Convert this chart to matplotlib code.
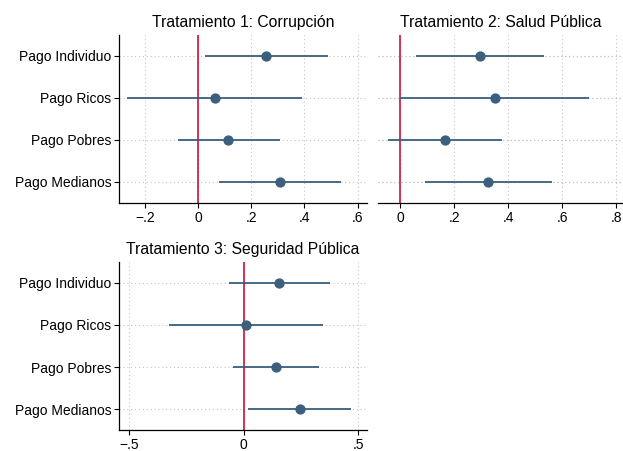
import matplotlib
matplotlib.use('Agg')
import matplotlib.pyplot as plt

plt.rcParams['font.family'] = ['Liberation Sans', 'DejaVu Sans']

# Coefficients with 95% confidence intervals, one set per treatment
categories = ['Pago Individuo', 'Pago Ricos', 'Pago Pobres', 'Pago Medianos']

t1_title = 'Tratamiento 1: Corrupción'
t1_coef = [0.257, 0.065, 0.114, 0.309]
t1_lo   = [0.028, -0.266, -0.077, 0.080]
t1_hi   = [0.487, 0.392, 0.308, 0.536]

t2_title = 'Tratamiento 2: Salud Pública'
t2_coef = [0.294, 0.350, 0.166, 0.326]
t2_lo   = [0.058, 0.000, -0.046, 0.091]
t2_hi   = [0.531, 0.699, 0.377, 0.561]

t3_title = 'Tratamiento 3: Seguridad Pública'
t3_coef = [0.156, 0.010, 0.141, 0.245]
t3_lo   = [-0.064, -0.325, -0.048, 0.020]
t3_hi   = [0.377, 0.345, 0.331, 0.469]

xticks_12 = [[-0.2, 0, 0.2, 0.4, 0.6], [0, 0.2, 0.4, 0.6, 0.8]]
xticklabels_12 = [['-.2', '0', '.2', '.4', '.6'], ['0', '.2', '.4', '.6', '.8']]
xticks_3 = [-0.5, 0, 0.5]
xticklabels_3 = ['-.5', '0', '.5']

BLUE = '#3b5f7c'
RED  = '#d0103a'
GRID = '#c4c4c4'


def coefplot(ax, title, coef, lo, hi, xlim, ticks, labels, show_y=True):
    ypos = list(range(1, len(categories) + 1))
    for t in ticks:
        ax.axvline(t, color=GRID, lw=0.8, ls=(0, (1, 2.5)), zorder=0)
    for y in ypos:
        ax.axhline(y, color=GRID, lw=0.8, ls=(0, (1, 2.5)), zorder=0)
    ax.axvline(0, color=RED, lw=1.2, zorder=1)
    ax.hlines(ypos, lo, hi, color=BLUE, lw=1.3, zorder=2)
    ax.plot(coef, ypos, 'o', color=BLUE, ms=6.4, zorder=3)

    ax.set_xlim(*xlim)
    ax.set_ylim(4.5, 0.5)
    ax.set_xticks(ticks)
    ax.set_xticklabels([l.replace('-', '\u2212') for l in labels])
    ax.set_title(title, fontsize=11.3, pad=5.5)
    ax.tick_params(axis='both', labelsize=10, length=3.6, width=0.8,
                   direction='out', pad=2)
    for side in ('top', 'right'):
        ax.spines[side].set_visible(False)
    ax.spines['bottom'].set_linewidth(0.9)
    if show_y:
        ax.set_yticks(ypos)
        ax.set_yticklabels(categories)
        ax.spines['left'].set_linewidth(0.9)
    else:
        ax.set_yticks([])
        ax.spines['left'].set_visible(False)


fig = plt.figure(figsize=(6.23, 4.51), dpi=100)

ax1 = fig.add_axes([119 / 623, 1 - 203 / 451, 248 / 623, 168 / 451])
coefplot(ax1, t1_title, t1_coef, t1_lo, t1_hi, (-0.297, 0.635),
         xticks_12[0], xticklabels_12[0])

ax2 = fig.add_axes([378 / 623, 1 - 203 / 451, 245 / 623, 168 / 451])
coefplot(ax2, t2_title, t2_coef, t2_lo, t2_hi, (-0.083, 0.825),
         xticks_12[1], xticklabels_12[1], show_y=False)
# the row gridlines run all the way to the panel's left edge
for y in range(1, len(categories) + 1):
    ax2.axhline(y, color=GRID, lw=0.8, ls=(0, (1, 2.5)), zorder=0)

ax3 = fig.add_axes([119.3 / 623, 1 - 430.3 / 451, 247.4 / 623, 168.6 / 451])
coefplot(ax3, t3_title, t3_coef, t3_lo, t3_hi, (-0.544, 0.538),
         xticks_3, xticklabels_3)

fig.savefig('out.png', dpi=100, facecolor='white')
